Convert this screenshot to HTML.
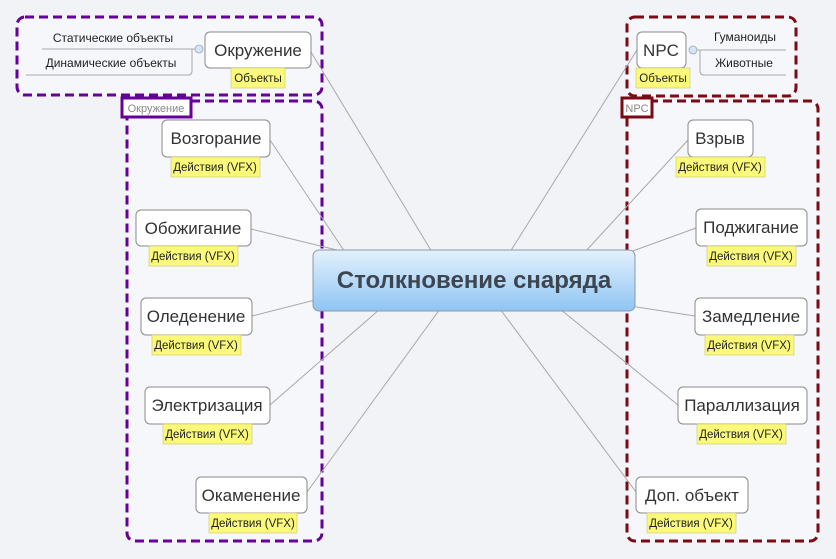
<!DOCTYPE html>
<html><head><meta charset="utf-8"><style>
html,body{margin:0;padding:0;background:#f2f3f6;}
svg{display:block;font-family:"Liberation Sans","DejaVu Sans",sans-serif;}
.n{fill:#fff;stroke:#8a8a8a;stroke-width:1;}
.t{fill:#fbf97a;stroke:#c9c66a;stroke-width:0.6;}
.nt{font-size:17px;fill:#333;text-anchor:middle;}
.tt{font-size:11.5px;fill:#222;text-anchor:middle;}
.l{stroke:#a8a8a8;stroke-width:1;fill:none;}
</style></head><body>
<svg width="836" height="559" viewBox="0 0 836 559">
<defs>
<linearGradient id="g" x1="0" y1="0" x2="0" y2="1">
<stop offset="0" stop-color="#e3f1fd"/><stop offset="1" stop-color="#8fc5f3"/>
</linearGradient>
</defs>
<rect x="127" y="101" width="195" height="440" rx="8" fill="#f6f7fa" stroke="#660099" stroke-width="3" stroke-dasharray="9,5"/>
<rect x="17" y="17" width="305" height="78" rx="8" fill="#f6f7fa" stroke="#660099" stroke-width="3" stroke-dasharray="9,5"/>
<rect x="627" y="101" width="191" height="440" rx="8" fill="#f6f7fa" stroke="#7a0a14" stroke-width="3" stroke-dasharray="9,5"/>
<rect x="627" y="17" width="169" height="79" rx="8" fill="#f6f7fa" stroke="#7a0a14" stroke-width="3" stroke-dasharray="9,5"/>
<rect x="122" y="98" width="69" height="19" fill="#fff" stroke="#660099" stroke-width="3"/>
<text x="156" y="112" font-size="11" fill="#888" text-anchor="middle">Окружение</text>
<rect x="622" y="98" width="30" height="19" fill="#fff" stroke="#7a0a14" stroke-width="3"/>
<text x="637" y="112" font-size="11" fill="#888" text-anchor="middle">NPC</text>
<path class="l" d="M311 52 L432 252 M270 140 L345 252 M251 229 L345 252 M252 316 L315 300 M270 405 L380 309 M307 492 L440 309 M637 50 L510 252 M688 140 L585 252 M696 228 L630 252 M695 316 L630 306 M678 405 L560 309 M636 492 L500 309"/>
<path class="l" stroke="#777" d="M42 49 L192 49 M26 75 L188 75 Q192 75 192 71 L192 49 L199 49"/>
<circle cx="199" cy="49" r="4" fill="#d6e4f5" stroke="#9ab" stroke-width="0.8"/>
<text x="113" y="42" font-size="12" fill="#222" text-anchor="middle">Статические объекты</text>
<text x="111" y="67" font-size="12" fill="#222" text-anchor="middle">Динамические объекты</text>
<path class="l" stroke="#777" d="M693 50 L786 50 M786 75 L704 75 Q700 75 700 71 L700 50"/>
<circle cx="693" cy="50" r="4" fill="#d6e4f5" stroke="#9ab" stroke-width="0.8"/>
<text x="745" y="41" font-size="12" fill="#222" text-anchor="middle">Гуманоиды</text>
<text x="744" y="67" font-size="12" fill="#222" text-anchor="middle">Животные</text>
<rect x="313" y="250" width="322" height="61" rx="6" fill="url(#g)" stroke="#8a9aab" stroke-width="1"/>
<text x="474" y="288" font-size="24" font-weight="bold" fill="#3d4550" text-anchor="middle">Столкновение снаряда</text>
<rect class="n" x="205" y="32" width="106" height="36" rx="5"/><text class="nt" x="258" y="56">Окружение</text>
<rect class="t" x="231" y="68" width="54" height="20"/><text class="tt" x="258" y="82">Объекты</text>
<rect class="n" x="637" y="32" width="49" height="36" rx="5"/><text class="nt" x="661" y="56">NPC</text>
<rect class="t" x="636" y="68" width="54" height="20"/><text class="tt" x="663" y="82">Объекты</text>

<rect class="n" x="162" y="120" width="108" height="37" rx="5"/><text class="nt" x="216" y="144">Возгорание</text>
<rect class="t" x="171" y="157" width="89" height="20"/><text class="tt" x="215" y="171">Действия (VFX)</text>
<rect class="n" x="136" y="210" width="115" height="36" rx="5"/><text class="nt" x="193" y="234">Обожигание</text>
<rect class="t" x="149" y="246" width="89" height="20"/><text class="tt" x="193" y="260">Действия (VFX)</text>
<rect class="n" x="141" y="298" width="111" height="37" rx="5"/><text class="nt" x="196" y="322">Оледенение</text>
<rect class="t" x="152" y="335" width="89" height="20"/><text class="tt" x="196" y="349">Действия (VFX)</text>
<rect class="n" x="145" y="387" width="125" height="37" rx="5"/><text class="nt" x="207" y="411">Электризация</text>
<rect class="t" x="163" y="424" width="89" height="20"/><text class="tt" x="207" y="438">Действия (VFX)</text>
<rect class="n" x="196" y="477" width="111" height="36" rx="5"/><text class="nt" x="251" y="501">Окаменение</text>
<rect class="t" x="209" y="513" width="88" height="20"/><text class="tt" x="253" y="527">Действия (VFX)</text>

<rect class="n" x="688" y="120" width="65" height="37" rx="5"/><text class="nt" x="720" y="144">Взрыв</text>
<rect class="t" x="676" y="157" width="89" height="20"/><text class="tt" x="720" y="171">Действия (VFX)</text>
<rect class="n" x="696" y="209" width="111" height="37" rx="5"/><text class="nt" x="751" y="233">Поджигание</text>
<rect class="t" x="707" y="246" width="89" height="20"/><text class="tt" x="751" y="260">Действия (VFX)</text>
<rect class="n" x="695" y="298" width="112" height="37" rx="5"/><text class="nt" x="751" y="322">Замедление</text>
<rect class="t" x="705" y="335" width="89" height="20"/><text class="tt" x="749" y="349">Действия (VFX)</text>
<rect class="n" x="678" y="387" width="129" height="37" rx="5"/><text class="nt" x="742" y="411">Параллизация</text>
<rect class="t" x="697" y="424" width="89" height="20"/><text class="tt" x="741" y="438">Действия (VFX)</text>
<rect class="n" x="636" y="477" width="112" height="36" rx="5"/><text class="nt" x="692" y="501">Доп. объект</text>
<rect class="t" x="647" y="513" width="89" height="20"/><text class="tt" x="691" y="527">Действия (VFX)</text>
</svg>
</body></html>
